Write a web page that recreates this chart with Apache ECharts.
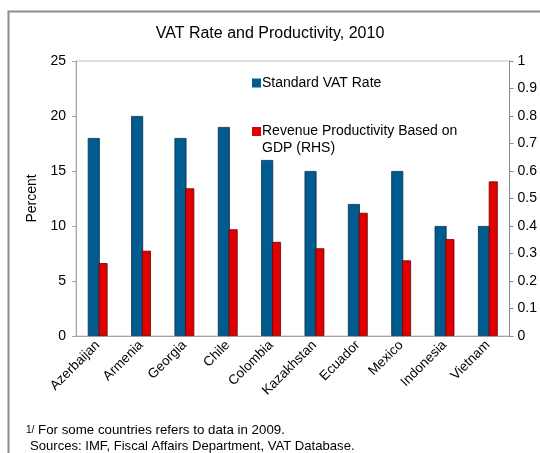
<!DOCTYPE html>
<html>
<head>
<meta charset="utf-8">
<script src="https://cdn.jsdelivr.net/npm/echarts@6/dist/echarts.min.js"></script>
<style>
  html, body { margin: 0; padding: 0; background: #fff; }
  #chart { width: 540px; height: 453px; }
</style>
</head>
<body>
<div id="chart"></div>
<script>
// data
const countries = ["Azerbaijan", "Armenia", "Georgia", "Chile", "Colombia", "Kazakhstan", "Ecuador", "Mexico", "Indonesia", "Vietnam"];
const vatRate = [18, 20, 18, 19, 16, 15, 12, 15, 10, 10];
const productivity = [0.265, 0.31, 0.537, 0.388, 0.342, 0.319, 0.448, 0.275, 0.352, 0.562];

const FONT = "Liberation Sans, Arial, sans-serif";
const BLUE = "#005b8f";
const RED = "#e00000";

const chart = echarts.init(document.getElementById("chart"));

const option = {
  animation: false,
  textStyle: { fontFamily: FONT },
  title: {
    text: "VAT Rate and Productivity, 2010",
    left: 265,
    textAlign: "center",
    top: 21,
    textStyle: { fontFamily: FONT, fontSize: 16, fontWeight: "normal", color: "#000" },
  },
  legend: [
    {
      data: ["Standard VAT Rate"],
      left: 247,
      top: 71,
      itemWidth: 9,
      itemHeight: 9,
      itemGap: 0,
      icon: "rect",
      itemStyle: { borderWidth: 0 },
      textStyle: { fontFamily: FONT, fontSize: 14, color: "#000", padding: [0, 0, 0, -4] },
    },
    {
      data: ["Revenue Productivity Based on GDP (RHS)"],
      left: 247,
      top: 118,
      itemWidth: 9,
      itemHeight: 26,
      // square sits beside the first line of the two-line label
      icon: "path://M0,0H9V9H0ZM0,26L9,26",
      itemStyle: { borderWidth: 0 },
      formatter: () => "Revenue Productivity Based on\nGDP (RHS)",
      textStyle: { fontFamily: FONT, fontSize: 14, lineHeight: 17, color: "#000", padding: [0, 0, 0, -4] },
    },
  ],
  grid: {
    left: 76,
    right: 28,
    top: 61,
    bottom: 117,
    show: true,
    borderColor: "#c0c0c0",
    borderWidth: 1,
  },
  xAxis: {
    type: "category",
    data: countries,
    axisLine: { lineStyle: { color: "#a6a6a6" } },
    axisTick: { inside: true, length: 4, lineStyle: { color: "#c8c8c8" } },
    axisLabel: { interval: 0, rotate: 45, margin: 7, fontSize: 13.5, color: "#000", fontFamily: FONT },
  },
  yAxis: [
    {
      type: "value",
      min: 0,
      max: 25,
      interval: 5,
      name: "Percent",
      nameLocation: "middle",
      nameGap: 30,
      nameTextStyle: { fontSize: 14, color: "#000", fontFamily: FONT },
      axisLine: { show: true, lineStyle: { color: "#a6a6a6" } },
      axisTick: { show: true, length: 4, lineStyle: { color: "#a6a6a6" } },
      splitLine: { show: false },
      axisLabel: { fontSize: 14, color: "#000", margin: 10, fontFamily: FONT },
    },
    {
      type: "value",
      min: 0,
      max: 1,
      interval: 0.1,
      position: "right",
      axisLine: { show: true, lineStyle: { color: "#8c8c8c" } },
      axisTick: { show: true, length: 4, lineStyle: { color: "#8c8c8c" } },
      splitLine: { show: false },
      axisLabel: { fontSize: 14, color: "#000", margin: 8, fontFamily: FONT },
    },
  ],
  series: [
    {
      name: "Standard VAT Rate",
      type: "bar",
      data: vatRate,
      barWidth: 12,
      barGap: "-10%",
      itemStyle: { color: BLUE, borderColor: "#0b2f4a", borderWidth: 0.8 },
    },
    {
      name: "Revenue Productivity Based on GDP (RHS)",
      type: "bar",
      yAxisIndex: 1,
      data: productivity,
      barWidth: 9,
      itemStyle: { color: RED, borderColor: "#6a0000", borderWidth: 0.8 },
    },
  ],
  graphic: [
    // outer frame of the figure
    {
      type: "rect",
      shape: { x: 8.5, y: 11.5, width: 600, height: 500 },
      style: { fill: "none", stroke: "#8c8c8c", lineWidth: 2 },
      silent: true,
    },
    {
      type: "text",
      left: 26,
      top: 424,
      style: {
        text: "{s|1/} For some countries refers to data in 2009.",
        font: "13.3px " + FONT,
        fill: "#000",
        rich: { s: { fontSize: 10, fontFamily: FONT, fill: "#000" } },
      },
    },
    {
      type: "text",
      left: 30,
      top: 440,
      style: {
        text: "Sources: IMF, Fiscal Affairs Department, VAT Database.",
        font: "13.1px " + FONT,
        fill: "#000",
      },
    },
  ],
};

chart.setOption(option);
</script>
</body>
</html>
